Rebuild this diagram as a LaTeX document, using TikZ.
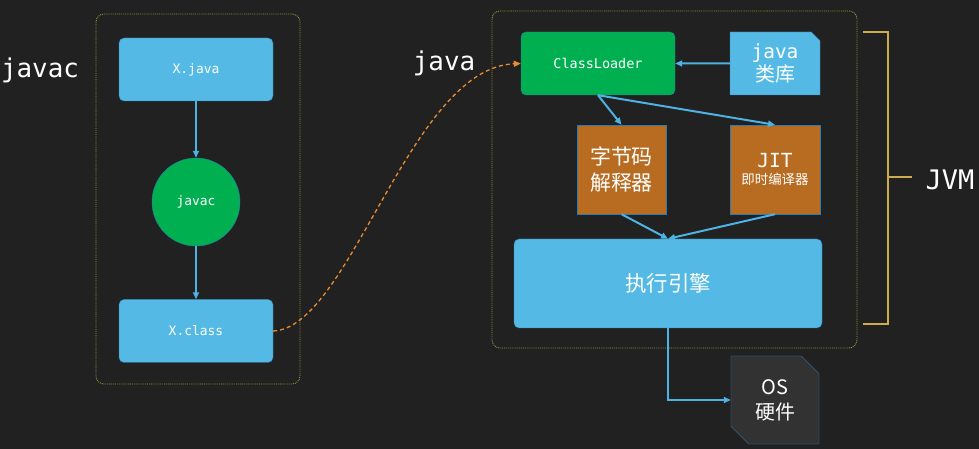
\documentclass[tikz,border=0pt]{standalone}
\usepackage{fontspec}
\usepackage{tikz}
\usetikzlibrary{arrows.meta,shapes.misc}
\setmainfont{DejaVu Sans}
\newfontfamily\mono{DejaVu Sans Mono}
\newfontfamily\cjk{Noto Sans CJK SC}
\definecolor{board}{RGB}{33,33,33}
\definecolor{skyblue}{RGB}{84,186,229}
\definecolor{leafgreen}{RGB}{0,176,80}
\definecolor{rust}{RGB}{184,108,34}
\definecolor{edgeblue}{RGB}{46,125,175}
\definecolor{flowblue}{RGB}{78,178,226}
\definecolor{olive}{RGB}{150,150,60}
\definecolor{goldline}{RGB}{205,172,80}
\definecolor{dashorange}{RGB}{230,140,50}
\definecolor{osgray}{RGB}{50,50,50}

\tikzset{
  bluebox/.style={draw=edgeblue,rounded corners=5bp,fill=skyblue,text=white},
  greenbox/.style={draw=edgeblue,rounded corners=5bp,fill=leafgreen,text=white},
  rustbox/.style={draw=edgeblue,fill=rust,text=white},
  flow/.style={->,flowblue,line width=2bp},
  frame/.style={olive,densely dotted,rounded corners=8bp,line width=0.9bp},
}

\begin{document}
\begin{tikzpicture}[x=1bp,y=-1bp,>={Triangle[length=7bp,width=6bp]},every node/.style={align=center,inner sep=0pt}]
  \fill[board] (0,0) rectangle (979,449);
  % left: compile step
  \draw[frame] (96,14) rectangle (300,384);
  \node[font=\mono\fontsize{26}{30}\selectfont,text=white] (javaclabel) at (40,70) {javac};
  \node[bluebox,minimum width=154bp,minimum height=63bp,font=\mono\fontsize{13}{15}\selectfont] (xjava) at (196,69.5) {X.java};
  \node[circle,draw=edgeblue,fill=leafgreen,text=white,minimum size=88bp,font=\mono\fontsize{13}{15}\selectfont] (javacc) at (196,202) {javac};
  \node[bluebox,minimum width=154bp,minimum height=63bp,font=\mono\fontsize{13}{15}\selectfont] (xclass) at (196,331) {X.class};
  \draw[flow] (xjava) -- (javacc);
  \draw[flow] (javacc) -- (xclass);

  % right: jvm
  \draw[frame] (492,11) rectangle (857,348);
  \node[font=\mono\fontsize{26}{30}\selectfont,text=white] (javalabel) at (444,63) {java};
  \node[greenbox,minimum width=154bp,minimum height=63bp,font=\mono\fontsize{13.5}{15}\selectfont] (loader) at (598,63.5) {ClassLoader};
  \node[chamfered rectangle,chamfered rectangle corners=north east,chamfered rectangle xsep=5bp,
        draw=edgeblue,fill=skyblue,text=white,minimum width=90bp,minimum height=63bp] (lib) at (775,63.5)
        {{\mono\fontsize{19.5}{22}\selectfont java}\\[1bp]{\cjk\fontsize{20}{22}\selectfont 类库}};
  \node[rustbox,minimum width=89bp,minimum height=89bp,font=\cjk\fontsize{21}{26}\selectfont] (interp) at (621.5,169.5) {字节码\\解释器};
  \node[rustbox,minimum width=90bp,minimum height=89bp] (jit) at (775,169.5)
        {{\mono\fontsize{19.5}{22}\selectfont JIT}\\[5bp]{\cjk\fontsize{13.5}{15}\selectfont 即时编译器}};
  \node[bluebox,minimum width=308bp,minimum height=89bp,font=\cjk\fontsize{21.5}{24}\selectfont] (engine) at (668,283.5) {执行引擎};
  \node[chamfered rectangle,chamfered rectangle corners={north east,south west},chamfered rectangle xsep=14bp,
        draw=edgeblue,fill=osgray,text=white,minimum width=88bp,minimum height=88bp,font=\cjk\fontsize{20}{25}\selectfont] (os) at (775,400) {OS\\硬件};

  \draw[flow] (lib) -- (loader);
  \draw[flow] (loader.south) -- (interp.north);
  \draw[flow] (loader.south) -- (jit.north);
  \draw[flow] (interp.south) -- (engine.north);
  \draw[flow] (jit.south) -- (engine.north);
  \draw[flow] (engine.south) |- (os.west);
  \draw[->,dashorange,dash pattern=on 4bp off 3bp,line width=1.3bp] (xclass.east) .. controls (350,328) and (410,68) .. (loader.west);

  % jvm bracket
  \draw[goldline,line width=1.5bp] (863,32) -| (888,324) -- (863,324);
  \draw[goldline,line width=1.5bp] (888,177) -- (912,177);
  \node[font=\mono\fontsize{27}{30}\selectfont,text=white] (jvmlabel) at (950,180) {JVM};
\end{tikzpicture}
\end{document}
